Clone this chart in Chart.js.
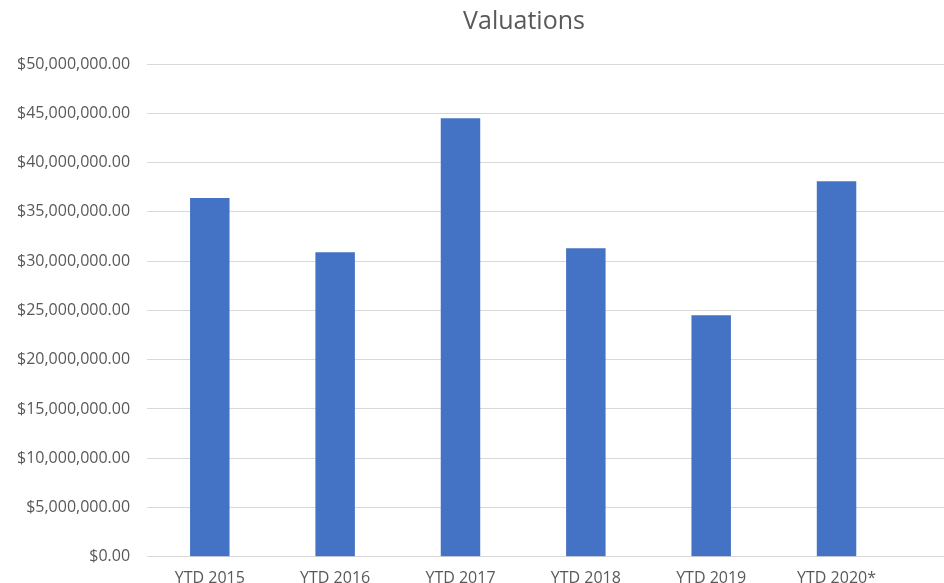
<!DOCTYPE html>
<html>
<head>
<meta charset="utf-8">
<title>Valuations</title>
<script src="https://cdn.jsdelivr.net/npm/chart.js@4"></script>
<style>
  html, body { margin: 0; padding: 0; background: #fff; overflow: hidden; }
  #wrap { position: relative; width: 1048px; height: 603px; }
</style>
</head>
<body>
<div id="wrap"><canvas id="valChart"></canvas></div>
<script>
  "use strict";

  var categories = ["YTD 2015", "YTD 2016", "YTD 2017", "YTD 2018", "YTD 2019", "YTD 2020*"];
  var valuations = [36400000, 30900000, 44500000, 31300000, 24500000, 38100000];
  var yTicks = { min: 0, max: 50000000, step: 5000000 };

  var grey = "#595959";
  var font = "'Open Sans', 'Noto Sans', sans-serif";

  function money(v) {
    return "$" + Number(v).toLocaleString("en-US", { minimumFractionDigits: 2, maximumFractionDigits: 2 });
  }

  // plot area runs past the right edge like the cropped original, so x is an index scale
  var points = valuations.map(function (v, i) { return { x: i, y: v }; });

  new Chart(document.getElementById("valChart"), {
    type: "bar",
    data: {
      datasets: [{
        label: "Valuations",
        data: points,
        backgroundColor: "#4472C4",
        borderWidth: 0,
        categoryPercentage: 1,
        barPercentage: 0.315
      }]
    },
    options: {
      responsive: true,
      maintainAspectRatio: false,
      animation: false,
      layout: { padding: { left: 0, right: 0, top: 0, bottom: 3 } },
      plugins: {
        legend: { display: false },
        tooltip: { enabled: false },
        title: {
          display: true,
          text: "Valuations",
          color: grey,
          font: { family: font, size: 25, weight: "normal" },
          padding: { top: 7, bottom: 27 }
        }
      },
      scales: {
        x: {
          type: "linear",
          offset: false,
          min: -0.5,
          max: 6.687,
          grid: { display: false, drawTicks: false },
          border: { display: false },
          // keep only one tick per category
          afterBuildTicks: function (scale) {
            scale.ticks = scale.ticks.filter(function (t) {
              return Number.isInteger(t.value) && categories[t.value] !== undefined;
            });
          },
          ticks: {
            stepSize: 1,
            autoSkip: false,
            maxRotation: 0,
            padding: 12,
            color: grey,
            font: { family: font, size: 16 },
            callback: function (v) { return categories[v]; }
          }
        },
        y: {
          min: yTicks.min,
          max: yTicks.max,
          grid: { color: "#d9d9d9", lineWidth: 1, drawTicks: false },
          border: { display: false },
          ticks: {
            stepSize: yTicks.step,
            padding: 17,
            color: grey,
            font: { family: font, size: 16 },
            callback: function (v) { return money(v); }
          }
        }
      }
    }
  });
</script>
</body>
</html>
